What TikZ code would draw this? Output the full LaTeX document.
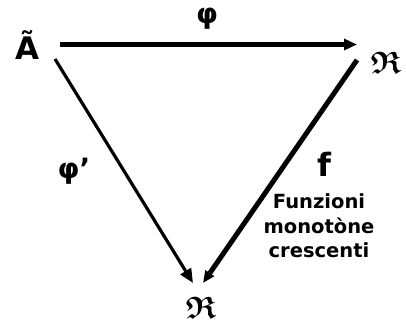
\documentclass[tikz,border=0pt]{standalone}
\usepackage{amsmath,amssymb}
\usepackage{fontspec}
\setmainfont{DejaVu Sans}
\usetikzlibrary{arrows.meta}
\begin{document}
\begin{tikzpicture}[x=1pt,y=-1pt,
  lbl/.style={inner sep=0pt},
  arr/.style={draw,-{Triangle[length=14pt,width=12pt]}}]
\useasboundingbox (0,0) rectangle (406,326);
\node[lbl,font=\bfseries\fontsize{31}{33}\selectfont] (A) at (27,45) {Ã};
\node[lbl,font=\fontsize{31}{33}\selectfont] (R1) at (386,63) {$\boldsymbol{\mathfrak{R}}$};
\node[lbl,font=\fontsize{31}{33}\selectfont] (R2) at (201,308) {$\boldsymbol{\mathfrak{R}}$};
\node[lbl,font=\bfseries\fontsize{28}{30}\selectfont] (phi) at (207,19) {φ};
\node[lbl,font=\bfseries\fontsize{28}{30}\selectfont] (phip) at (74,171) {φ’};
\node[lbl,font=\bfseries\fontsize{32}{34}\selectfont] (f) at (324,164) {f};
\node[lbl,font=\bfseries\fontsize{19.5}{24.5}\selectfont,align=center] (txt) at (319,226) {Funzioni\\monotòne\\crescenti};
\coordinate (a1) at (60,44.5);
\coordinate (r1) at (357,44.5);
\coordinate (a2) at (55,59);
\coordinate (t2) at (193,283);
\coordinate (r3) at (357,60);
\coordinate (t3) at (203,283);
\draw[arr,line width=4.3pt,-{Triangle[length=13pt,width=11pt]}] (a1) -- (r1);
\draw[arr,line width=3.2pt] (a2) -- (t2);
\draw[arr,line width=5pt,-{Triangle[length=12pt,width=10pt]}] (r3) -- (t3);
\end{tikzpicture}
\end{document}
